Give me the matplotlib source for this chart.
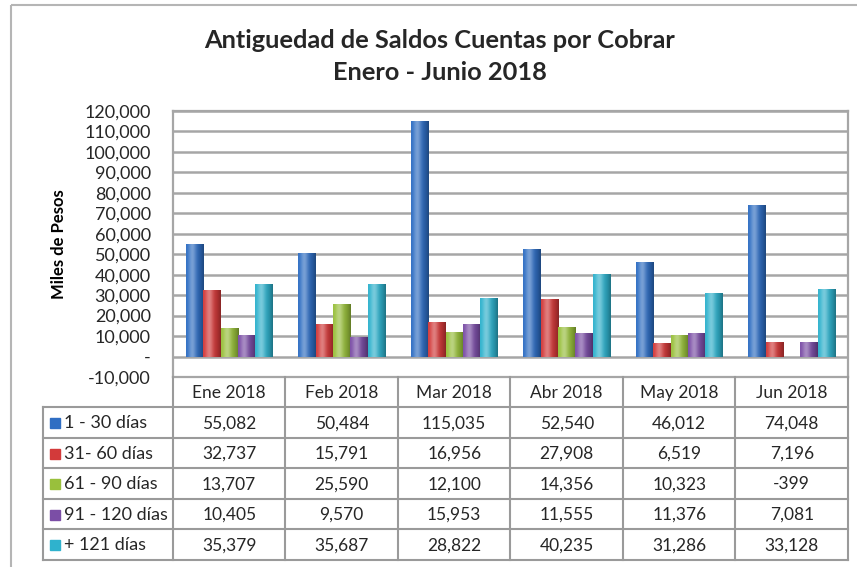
import matplotlib
matplotlib.use("Agg")
import matplotlib.pyplot as plt
from matplotlib.patches import Rectangle
from matplotlib.colors import to_rgb
import numpy as np

plt.rcParams['font.family'] = ['Lato', 'DejaVu Sans']
plt.rcParams['text.color'] = '#262626'
plt.rcParams['ytick.color'] = '#262626'

# data
months = ["Ene 2018", "Feb 2018", "Mar 2018", "Abr 2018", "May 2018", "Jun 2018"]
series_names = ["1 - 30 días", "31- 60 días", "61 - 90 días", "91 - 120 días", "+ 121 días"]
d_1_30 = [55082, 50484, 115035, 52540, 46012, 74048]
d_31_60 = [32737, 15791, 16956, 27908, 6519, 7196]
d_61_90 = [13707, 25590, 12100, 14356, 10323, -399]
d_91_120 = [10405, 9570, 15953, 11555, 11376, 7081]
d_121 = [35379, 35687, 28822, 40235, 31286, 33128]
series = [d_1_30, d_31_60, d_61_90, d_91_120, d_121]
colors = ["#2f6ec3", "#d33a3a", "#99c03c", "#7b4ea6", "#2fb2cd"]
yticks = list(range(-10000, 120001, 10000))

W, H = 857, 567
fig = plt.figure(figsize=(W / 100, H / 100), dpi=100)

# pixel layout
px_left, px_right, px_top, px_bottom = 173, 848, 111, 377
ax = fig.add_axes([px_left / W, 1 - px_bottom / H, (px_right - px_left) / W, (px_bottom - px_top) / H])


def shade(c):
    # horizontal cylinder-like gradient for a bar
    base = np.array(to_rgb(c))
    t = np.linspace(0, 1, 32)
    light = 0.35 * np.exp(-((t - 0.35) / 0.22) ** 2)
    dark = 0.35 * t ** 3
    rgb = base[None, :] * (1 - dark[:, None]) + (1 - base[None, :]) * light[:, None]
    return np.clip(rgb, 0, 1)[None, :, :]


x = np.arange(len(months))
bw = 0.155
for k, vals in enumerate(series):
    bars = ax.bar(x + (k - 2) * bw, vals, width=bw, color=colors[k], linewidth=0, zorder=3)
    grad = shade(colors[k])
    for b in bars:
        x0, y0 = b.get_x(), b.get_y()
        w, h = b.get_width(), b.get_height()
        im = ax.imshow(grad, extent=(x0, x0 + w, y0, y0 + h), aspect='auto', zorder=4,
                       interpolation='bilinear')
        im.set_clip_path(b)

ax.set_xlim(-0.5, len(months) - 0.5)
ax.set_ylim(-10000, 120000)
ax.set_yticks(yticks)
ax.set_yticklabels(["-" if t == 0 else f"{t:,}" for t in yticks], fontsize=13)
ax.tick_params(axis='y', length=0, pad=16)
ax.set_xticks([])
for t in yticks[1:]:
    ax.axhline(t, color="#a6a6a6", lw=1.8, zorder=1)
for s in ax.spines.values():
    s.set_color("#a6a6a6")
    s.set_linewidth(1.6)
ax.set_ylabel("Miles de Pesos", fontsize=12, fontweight='bold')
ax.yaxis.set_label_coords(-(px_left - 67) / (px_right - px_left), 0.5)

# overlay for frame, title and data table in pixel coordinates
ov = fig.add_axes([0, 0, 1, 1], zorder=-1)
ov.set_xlim(0, W)
ov.set_ylim(H, 0)
ov.axis('off')
ov.add_patch(Rectangle((11, 5), W + 10, H + 10, fill=False, ec="#b5b5b5", lw=1.5))

fig.text(440 / W, 1 - 40 / H, "Antiguedad de Saldos Cuentas por Cobrar", ha='center', va='center',
         fontsize=18.3, fontweight='bold')
fig.text(440 / W, 1 - 72 / H, "Enero - Junio 2018", ha='center', va='center',
         fontsize=18.3, fontweight='bold')

tab = fig.add_axes([0, 0, 1, 1], zorder=2)
tab.set_xlim(0, W)
tab.set_ylim(H, 0)
tab.axis('off')
tab.patch.set_alpha(0)

tab_left = 43
col_w = (px_right - px_left) / len(months)
row_h = 30.5
head_top = px_bottom
rows_top = head_top + 30
lc = "#9a9a9a"
lw = 1.5

# header row
for i, m in enumerate(months):
    tab.text(px_left + (i + 0.5) * col_w, head_top + 16, m, ha='center', va='center', fontsize=12.5)
nrows = len(series)
bottom = rows_top + nrows * row_h
tab.plot([px_left, px_left], [head_top, bottom], color=lc, lw=lw)
for i in range(1, len(months) + 1):
    xx = px_left + i * col_w
    tab.plot([xx, xx], [head_top, bottom], color=lc, lw=lw)
tab.plot([tab_left, px_right], [rows_top, rows_top], color=lc, lw=lw)
tab.plot([tab_left, tab_left], [rows_top, bottom], color=lc, lw=lw)
for r in range(nrows):
    y0 = rows_top + r * row_h
    y1 = y0 + row_h
    tab.plot([tab_left, px_right], [y1, y1], color=lc, lw=lw)
    yc = (y0 + y1) / 2 + 1
    tab.add_patch(Rectangle((50, yc - 5), 10, 10, color=colors[r]))
    tab.text(64, yc, series_names[r], ha='left', va='center', fontsize=13)
    for i, v in enumerate(series[r]):
        tab.text(px_left + (i + 0.5) * col_w, yc, f"{v:,}", ha='center', va='center', fontsize=12.5)

fig.savefig("out.png", dpi=100)
